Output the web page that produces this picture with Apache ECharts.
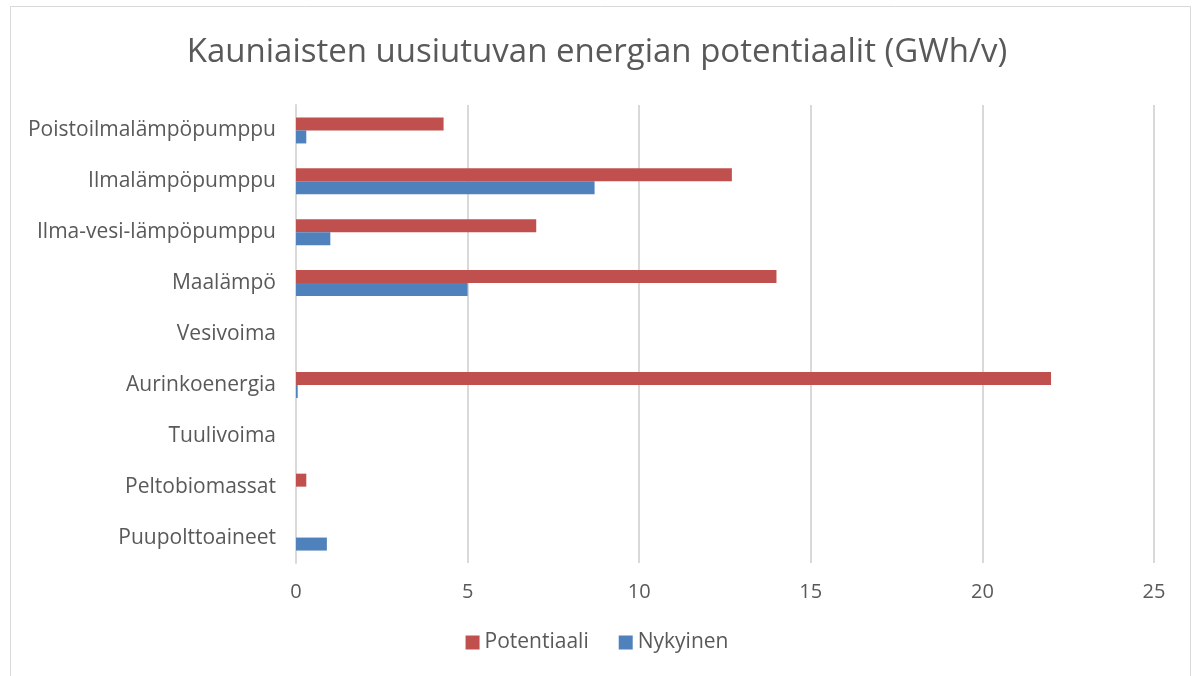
<!DOCTYPE html>
<html>
<head>
<meta charset="utf-8">
<script src="https://cdn.jsdelivr.net/npm/echarts@6/dist/echarts.min.js"></script>
<style>
  html, body { margin: 0; padding: 0; background: #fff; }
  #chart { width: 1194px; height: 676px; }
</style>
</head>
<body>
<div id="chart"></div>
<script>
// categories listed top to bottom as in the picture
const categories = [
  'Poistoilmalämpöpumppu',
  'Ilmalämpöpumppu',
  'Ilma-vesi-lämpöpumppu',
  'Maalämpö',
  'Vesivoima',
  'Aurinkoenergia',
  'Tuulivoima',
  'Peltobiomassat',
  'Puupolttoaineet'
]
const potentiaali = [4.3, 12.7, 7.0, 14.0, 0, 22.0, 0, 0.3, 0]
const nykyinen = [0.3, 8.7, 1.0, 5.0, 0, 0.05, 0, 0, 0.9]

const chart = echarts.init(document.getElementById('chart'))
const font = '"Open Sans", "Liberation Sans", sans-serif'

chart.setOption({
  animation: false,
  textStyle: { fontFamily: font },
  title: {
    text: 'Kauniaisten uusiutuvan energian potentiaalit (GWh/v)',
    left: 'center',
    top: 31,
    textStyle: { fontSize: 33, fontWeight: 'normal', color: '#595959', fontFamily: font }
  },
  graphic: [{
    type: 'rect',
    shape: { x: 10.5, y: 6.5, width: 1180, height: 680 },
    style: { fill: 'none', stroke: '#d9d9d9', lineWidth: 1 },
    silent: true
  }],
  legend: {
    data: ['Potentiaali', 'Nykyinen'],
    bottom: 18,
    left: 'center',
    icon: 'rect',
    itemWidth: 14,
    itemHeight: 14,
    itemGap: 30,
    textStyle: { fontSize: 21, color: '#595959', fontFamily: font }
  },
  grid: { left: 296, right: 40, top: 105, bottom: 113 },
  xAxis: {
    type: 'value',
    min: 0,
    max: 25,
    interval: 5,
    axisLine: { show: false },
    axisTick: { show: false },
    splitLine: { lineStyle: { color: '#d9d9d9', width: 2 } },
    axisLabel: { fontSize: 20, color: '#595959', margin: 19, fontFamily: font }
  },
  yAxis: {
    type: 'category',
    data: categories,
    inverse: true,
    axisLine: { lineStyle: { color: '#d9d9d9', width: 2 } },
    axisTick: { show: false },
    axisLabel: { fontSize: 21, color: '#595959', margin: 20, fontFamily: font }
  },
  series: [
    {
      name: 'Potentiaali',
      type: 'bar',
      data: potentiaali,
      barWidth: 13,
      barGap: '0%',
      itemStyle: { color: '#c0504d' }
    },
    {
      name: 'Nykyinen',
      type: 'bar',
      data: nykyinen,
      barWidth: 13,
      barGap: '0%',
      itemStyle: { color: '#4f81bd' }
    }
  ]
})
</script>
</body>
</html>
